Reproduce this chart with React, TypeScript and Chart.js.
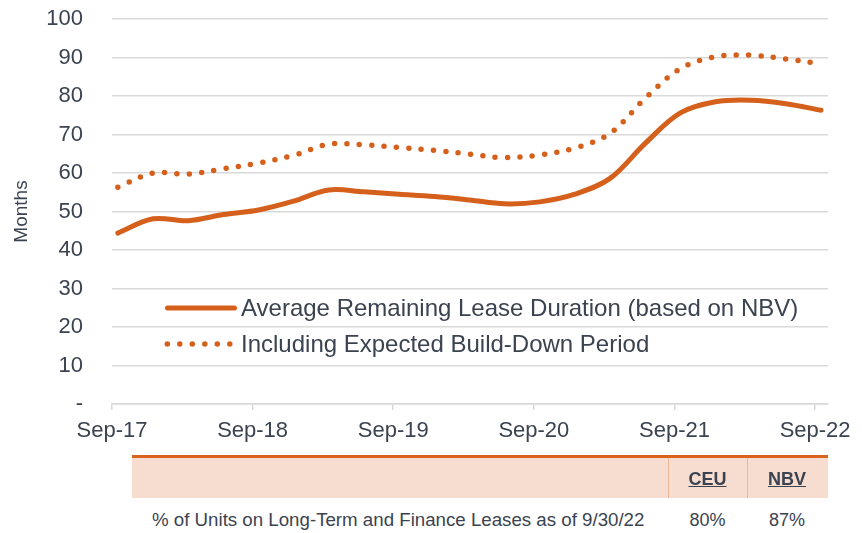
import React, { useEffect, useRef } from "react";
import { Chart, registerables } from "chart.js";

Chart.register(...registerables);

// ---- Data ----
const quarterLabels = [
  "Sep-17", "Dec-17", "Mar-18", "Jun-18", "Sep-18", "Dec-18", "Mar-19", "Jun-19",
  "Sep-19", "Dec-19", "Mar-20", "Jun-20", "Sep-20", "Dec-20", "Mar-21", "Jun-21",
  "Sep-21", "Dec-21", "Mar-22", "Jun-22", "Sep-22",
];
const avgRemainingLease = [
  44.4, 48.1, 47.6, 49.2, 50.4, 52.7, 55.6, 55.1, 54.5, 53.9, 53.0,
  52.0, 52.5, 54.5, 58.6, 67.7, 75.6, 78.5, 78.9, 78.0, 76.3,
];
const includingBuildDown = [
  56.3, 60.0, 59.7, 61.1, 62.6, 64.6, 67.5, 67.3, 66.6, 65.9, 64.9,
  64.0, 64.7, 66.5, 70.3, 79.4, 87.1, 90.2, 90.6, 89.6, 88.4,
];
const xTickLabels = ["Sep-17", "Sep-18", "Sep-19", "Sep-20", "Sep-21", "Sep-22"];
const yTickValues = [0, 10, 20, 30, 40, 50, 60, 70, 80, 90, 100];
const seriesNames = [
  "Average Remaining Lease Duration (based on NBV)",
  "Including Expected Build-Down Period",
];
const tableHeaders = ["CEU", "NBV"];
const tableRowLabel = "% of Units on Long-Term and Finance Leases as of 9/30/22";
const tableRowValues = ["80%", "87%"];

// months between quarters; data sits slightly after the month start
const MONTHS_PER_QUARTER = 3;
const DATA_OFFSET = 0.5;

const ORANGE = "#D5601C";
const TEXT = "#3b4350";
const GRID = "#d9d9d9";
const FONT = "'Liberation Sans', Arial, sans-serif";

const toPoints = (vals: number[]) =>
  vals.map((v, i) => ({ x: i * MONTHS_PER_QUARTER + DATA_OFFSET, y: v }));

export default function App() {
  const canvasRef = useRef<HTMLCanvasElement | null>(null);

  useEffect(() => {
    document.body.style.margin = "0";
    const ctx = canvasRef.current;
    if (!ctx) return;
    const chart = new Chart(ctx, {
      type: "line",
      data: {
        datasets: [
          {
            label: seriesNames[0],
            data: toPoints(avgRemainingLease),
            borderColor: ORANGE,
            borderWidth: 5,
            borderCapStyle: "round",
            borderJoinStyle: "round",
            pointRadius: 0,
            tension: 0.35,
          },
          {
            label: seriesNames[1],
            data: toPoints(includingBuildDown),
            borderColor: ORANGE,
            borderWidth: 5.5,
            borderDash: [0, 12.4],
            borderCapStyle: "round",
            pointRadius: 0,
            tension: 0.35,
          },
        ],
      },
      options: {
        animation: false,
        responsive: false,
        devicePixelRatio: 1,
        layout: { padding: { top: 19, right: 34, left: 0, bottom: 0 } },
        plugins: { legend: { display: false }, tooltip: { enabled: false } },
        scales: {
          x: {
            type: "linear",
            min: 0,
            max: 61.1,
            afterFit: (s: any) => {
              s.height = 56;
            },
            afterBuildTicks: (s: any) => {
              s.ticks = xTickLabels.map((_, i) => ({ value: i * 12 }));
            },
            grid: {
              drawOnChartArea: false,
              drawTicks: true,
              tickLength: 6,
              color: GRID,
              lineWidth: 1.5,
            },
            border: { display: true, color: GRID, width: 1.5 },
            ticks: {
              autoSkip: false,
              maxRotation: 0,
              padding: 8,
              color: TEXT,
              font: { family: FONT, size: 22 },
              callback: (v: any) => xTickLabels[Math.round(Number(v) / 12)] ?? "",
            },
          },
          y: {
            min: 0,
            max: 100,
            afterFit: (s: any) => {
              s.width = 112;
            },
            afterBuildTicks: (s: any) => {
              s.ticks = yTickValues.map((v) => ({ value: v }));
            },
            grid: {
              color: GRID,
              lineWidth: 1.5,
              drawTicks: true,
              tickLength: 29,
              tickColor: "rgba(0,0,0,0)",
            },
            border: { display: false },
            ticks: {
              padding: 0,
              color: TEXT,
              font: { family: FONT, size: 22 },
              callback: (v: any) => (Number(v) === 0 ? "-" : String(v)),
            },
            title: {
              display: true,
              text: "Months",
              color: TEXT,
              font: { family: FONT, size: 19 },
              padding: { top: 10, bottom: 0 },
            },
          },
        },
      },
    });
    return () => chart.destroy();
  }, []);

  const abs = (o: React.CSSProperties): React.CSSProperties => ({ position: "absolute", ...o });

  return (
    <div
      style={{
        position: "absolute",
        left: 0,
        top: 0,
        width: 862,
        height: 533,
        background: "#fff",
        fontFamily: FONT,
        color: TEXT,
        overflow: "hidden",
      }}
    >
      <canvas ref={canvasRef} width={862} height={460} style={{ display: "block" }} />

      {/* Legend */}
      <svg style={abs({ left: 0, top: 0 })} width={862} height={460}>
        <line x1={167.5} y1={308} x2={234.5} y2={308} stroke={ORANGE} strokeWidth={5} strokeLinecap="round" />
        <line x1={167.3} y1={344} x2={231} y2={344} stroke={ORANGE} strokeWidth={5.5} strokeLinecap="round" strokeDasharray="0 12.5" />
      </svg>
      <div style={abs({ left: 241, top: 308, transform: "translateY(-50%)", fontSize: 24, whiteSpace: "nowrap", lineHeight: 1 })}>
        {seriesNames[0]}
      </div>
      <div style={abs({ left: 241, top: 344, transform: "translateY(-50%)", fontSize: 24, whiteSpace: "nowrap", lineHeight: 1 })}>
        {seriesNames[1]}
      </div>

      {/* Table */}
      <div style={abs({ left: 132, top: 455, width: 696, height: 2.5, background: "#D9621E" })} />
      <div style={abs({ left: 132, top: 457.5, width: 696, height: 40.5, background: "#F7DDD0" })} />
      <div style={abs({ left: 668, top: 457.5, width: 1, height: 40.5, background: "#EDB797" })} />
      <div style={abs({ left: 747, top: 457.5, width: 1, height: 40.5, background: "#EDB797" })} />
      {tableHeaders.map((h, i) => (
        <div
          key={h}
          style={abs({
            left: i === 0 ? 668 : 747,
            width: i === 0 ? 79 : 80,
            top: 479,
            transform: "translateY(-50%)",
            textAlign: "center",
            fontSize: 18,
            fontWeight: "bold",
            textDecoration: "underline",
            lineHeight: 1,
          })}
        >
          {h}
        </div>
      ))}
      <div style={abs({ left: 152, top: 520, transform: "translateY(-50%)", fontSize: 18.7, whiteSpace: "nowrap", lineHeight: 1 })}>
        {tableRowLabel}
      </div>
      {tableRowValues.map((v, i) => (
        <div
          key={v}
          style={abs({
            left: i === 0 ? 668 : 747,
            width: i === 0 ? 79 : 80,
            top: 520,
            transform: "translateY(-50%)",
            textAlign: "center",
            fontSize: 18,
            lineHeight: 1,
          })}
        >
          {v}
        </div>
      ))}
    </div>
  );
}
